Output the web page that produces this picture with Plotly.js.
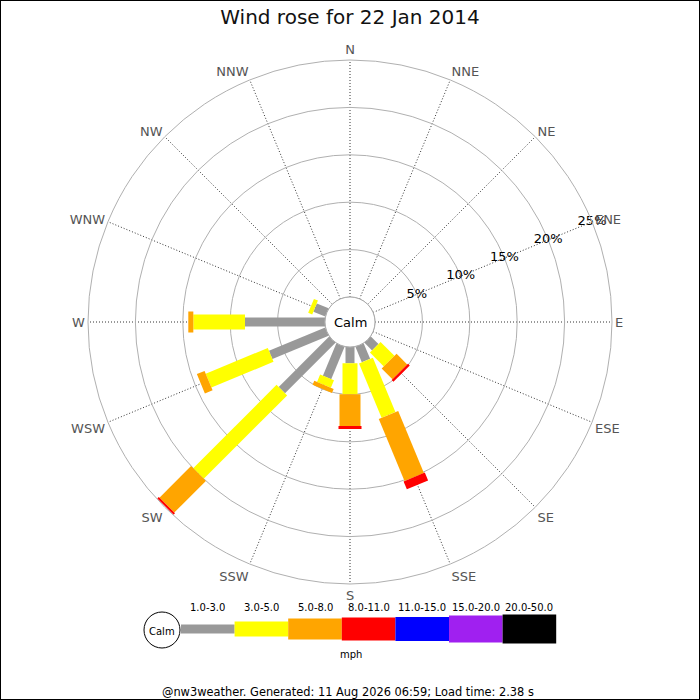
<!DOCTYPE html>
<html>
<head>
<meta charset="utf-8">
<script src="https://cdn.plot.ly/plotly-3.0.1.min.js"></script>
<style>
  html, body { margin: 0; padding: 0; background: #fff; }
  #chart { width: 700px; height: 700px; }
</style>
</head>
<body>
<div id="chart"></div>
<script>
// wind directions, clockwise from north
const directions = ['N', 'NNE', 'NE', 'ENE', 'E', 'ESE', 'SE', 'SSE', 'S', 'SSW', 'SW', 'WSW', 'W', 'WNW', 'NW', 'NNW'];

// % of time per speed band (mph), by direction
const speed1to3   = [0, 0, 0, 0, 0, 0, 1.13, 1.76, 1.72, 3.69, 7.53, 6.42, 8.44, 1.35, 0, 0];
const speed3to5   = [0, 0, 0, 0, 0, 0, 2.07, 6.21, 3.27, 0.85, 12.44, 7.09, 5.45, 0.46, 0, 0];
const speed5to8   = [0, 0, 0, 0, 0, 0, 1.60, 7.09, 3.34, 0.46, 4.71, 0.88, 0.53, 0, 0, 0];
const speed8to11  = [0, 0, 0, 0, 0, 0, 0.26, 0.90, 0.32, 0, 0.22, 0, 0, 0, 0, 0];
const speed11to15 = [0, 0, 0, 0, 0, 0, 0, 0, 0, 0, 0, 0, 0, 0, 0, 0];
const speed15to20 = [0, 0, 0, 0, 0, 0, 0, 0, 0, 0, 0, 0, 0, 0, 0, 0];
const speed20to50 = [0, 0, 0, 0, 0, 0, 0, 0, 0, 0, 0, 0, 0, 0, 0, 0];

const bandLabels = ['1.0-3.0', '3.0-5.0', '5.0-8.0', '8.0-11.0', '11.0-15.0', '15.0-20.0', '20.0-50.0'];
const radialTicks = [5, 10, 15, 20, 25];
const radialLabelDir = 'ENE';

const bands = [speed1to3, speed3to5, speed5to8, speed8to11, speed11to15, speed15to20, speed20to50];
const colours = ['#999999', '#ffff00', '#ffa500', '#ff0000', '#0000ff', '#a020f0', '#000000'];
const thick = [9, 15, 21, 23, 24, 27, 29];

const FONT = 'DejaVu Sans, Verdana, sans-serif';
const step = 360 / directions.length;

// each band = thick line segments stacked outward from the previous band
const traces = [];
const base = directions.map(() => 0);
bands.forEach((vals, b) => {
    const r = [], theta = [];
    vals.forEach((v, i) => {
        if (v > 0) {
            r.push(base[i], base[i] + v, null);
            theta.push(i * step, i * step, null);
        }
        base[i] += v;
    });
    if (!r.length) return;
    traces.push({
        type: 'scatterpolar', mode: 'lines', r: r, theta: theta,
        line: { color: colours[b], width: thick[b] },
        connectgaps: false, hoverinfo: 'skip', showlegend: false
    });
});

// % labels sit on the rings along the ENE spoke
traces.push({
    type: 'scatterpolar', mode: 'text', r: radialTicks,
    theta: radialTicks.map(() => directions.indexOf(radialLabelDir) * step),
    text: radialTicks.map(t => t + '%'), textposition: 'middle center',
    textfont: { family: FONT, size: 13, color: '#000' },
    cliponaxis: false, hoverinfo: 'skip', showlegend: false
});

// plot geometry (px)
const CX = 350, CY = 322, R = 262, HOLE = 25;
const px = x => x / 700;
const py = y => 1 - y / 700;

const note = (text, x, y, size) => ({
    text: text, x: px(x), y: py(y), xref: 'paper', yref: 'paper', xanchor: 'center', yanchor: 'middle',
    showarrow: false, font: { family: FONT, size: size, color: '#000' }
});

const shapes = [
    // calm circle
    { type: 'circle', xref: 'paper', yref: 'paper', x0: px(CX - HOLE), x1: px(CX + HOLE), y0: py(CY + HOLE), y1: py(CY - HOLE),
      line: { color: '#aaa', width: 1 }, fillcolor: 'white' },
    // frame
    { type: 'rect', xref: 'paper', yref: 'paper', x0: 0, x1: 1, y0: 0, y1: 1, line: { color: '#000', width: 2 } },
    // legend calm circle
    { type: 'circle', xref: 'paper', yref: 'paper', x0: px(144), x1: px(180), y0: py(648), y1: py(612),
      line: { color: '#000', width: 1 }, fillcolor: 'white' }
];

const annotations = [
    note('Calm', CX, CY, 13),
    note('Calm', 162, 631, 10),
    note('mph', 351, 654, 10),
    note('@nw3weather. Generated: 11 Aug 2026 06:59; Load time: 2.38 s', 348, 692, 11.4)
];

// legend key below the rose
const keyLeft = 181, keyW = 53.6, keyY = 629;
bandLabels.forEach((lab, b) => {
    const x0 = keyLeft + b * keyW, x1 = x0 + keyW;
    shapes.push({ type: 'rect', xref: 'paper', yref: 'paper', x0: px(x0), x1: px(x1),
                  y0: py(keyY + thick[b] / 2), y1: py(keyY - thick[b] / 2), line: { width: 0 }, fillcolor: colours[b] });
    annotations.push(note(lab, (x0 + x1) / 2, 607, 10));
});

const layout = {
    width: 700, height: 700,
    paper_bgcolor: 'white',
    margin: { t: 0, b: 0, l: 0, r: 0 },
    font: { family: FONT },
    title: { text: 'Wind rose for 22 Jan 2014', x: 0.5, xanchor: 'center', y: 1 - 17 / 700, yanchor: 'middle',
             font: { family: FONT, size: 20, color: '#111' } },
    showlegend: false,
    polar: {
        domain: { x: [px(CX - R), px(CX + R)], y: [py(CY + R), py(CY - R)] },
        hole: HOLE / R,
        bgcolor: 'white',
        radialaxis: {
            range: [0, 25], tickmode: 'array', tickvals: radialTicks,
            angle: 22.5, showticklabels: false, showline: false, ticks: '',
            gridcolor: '#b0b0b0', gridwidth: 1
        },
        angularaxis: {
            rotation: 90, direction: 'clockwise', thetaunit: 'degrees',
            tickmode: 'array', tickvals: directions.map((d, i) => i * step), ticktext: directions,
            ticks: '', showline: true, linecolor: '#b0b0b0', linewidth: 1,
            gridcolor: '#333', gridwidth: 1, griddash: '1px,2px',
            tickfont: { family: FONT, size: 13, color: '#555' }
        }
    },
    shapes: shapes,
    annotations: annotations
};

Plotly.newPlot('chart', traces, layout, { displayModeBar: false, staticPlot: true });
</script>
</body>
</html>
